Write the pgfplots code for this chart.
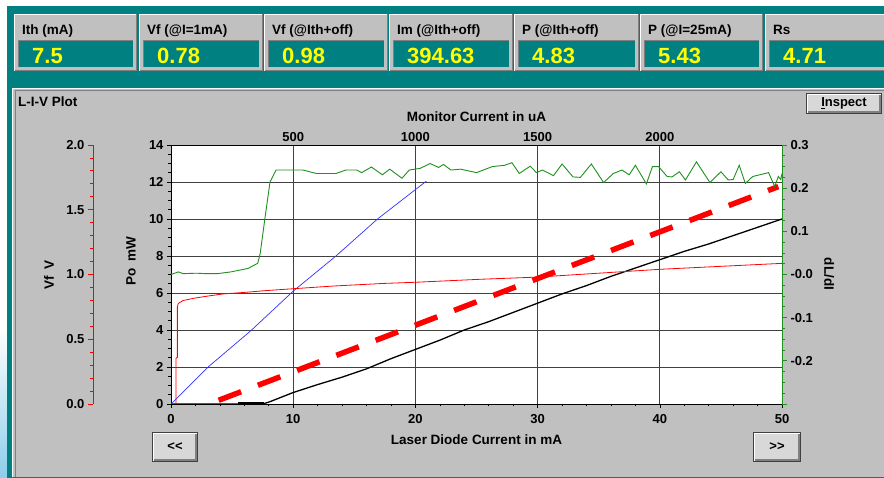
\documentclass[border=0pt]{standalone}
\usepackage{pgfplots}
\pgfplotsset{compat=1.18}
\usepackage{fontspec}
\setmainfont{Liberation Sans}
\definecolor{guiteal}{HTML}{008080}
\definecolor{guigray}{HTML}{C0C0C0}
\definecolor{guidark}{HTML}{808080}
\definecolor{btngray}{HTML}{D8D8D8}
\definecolor{gyellow}{HTML}{FFFF00}
\definecolor{cgreen}{RGB}{30,145,30}
\definecolor{cblue}{RGB}{50,50,255}
\newcommand\tickfont{\bfseries\fontsize{13}{15}\selectfont}
\newcommand\labfont{\bfseries\fontsize{13.5}{15}\selectfont}
\newcommand\boxlabfont{\bfseries\fontsize{13.5}{15}\selectfont}
\newcommand\boxvalfont{\bfseries\fontsize{22}{24}\selectfont}
\newcommand{\infobox}[4]{%
  \fill[guigray] (#1,407) rectangle (#2,464);
  \draw[white, line width=1pt] (#1+0.5,407) -- (#1+0.5,463.5) -- (#2-0.5,463.5);
  \draw[guidark, line width=1pt] (#1+0.5,407.5) -- (#2-0.5,407.5) -- (#2-0.5,464);
  \fill[guiteal] (#1+4,411) rectangle (#2-4,437);
  \draw[guidark, line width=1pt] (#1+4,411) -- (#1+4,437) -- (#2-4,437);
  \node[anchor=base west, inner sep=0pt, font=\boxlabfont] at (#1+8,443) {#3};
  \node[anchor=base west, inner sep=0pt, text=gyellow, font=\boxvalfont] at (#1+18,414) {#4};
}
\newcommand{\guibutton}[5]{%
  \fill[black!75] (#1,#2) rectangle (#3,#4);
  \fill[white] (#1+1,#2+1) rectangle (#3-1,#4-1);
  \fill[guidark] (#1+2,#2+1) rectangle (#3-1,#4-2);
  \fill[btngray] (#1+2,#2+3) rectangle (#3-3,#4-2);
  \node[font=\tickfont, inner sep=0pt] at ({(#1+#3)/2},{(#2+#4)/2}) {#5};
}
\pgfplotsset{guiaxis/.style={at={(171pt,74pt)}, anchor=south west, scale only axis,
  width=611pt, height=259pt, xmin=0, xmax=50}}
\begin{document}
\begin{tikzpicture}[x=1pt,y=1pt]
\useasboundingbox (0,0) rectangle (884,478);
\fill[white] (0,0) rectangle (884,478);
\shade[top color=white, bottom color={rgb,255:red,140;green,205;blue,235}] (0,0) rectangle (7,150);
\fill[guiteal] (7,0) rectangle (884,472);
% info boxes
\infobox{14}{137}{Ith (mA)}{7.5}
\infobox{139}{263}{Vf (@I=1mA)}{0.78}
\infobox{264}{388}{Vf (@Ith+off)}{0.98}
\infobox{389}{513}{Im (@Ith+off)}{394.63}
\infobox{514}{639}{P (@Ith+off)}{4.83}
\infobox{640}{763}{P (@I=25mA)}{5.43}
\infobox{765}{900}{Rs}{4.71}
% panel
\fill[guigray] (12,1) rectangle (884,390);
\draw[white, line width=1pt] (12.5,1) -- (12.5,389.5) -- (884,389.5);
\draw[guidark, line width=1pt] (15.5,1) -- (15.5,387.5) -- (884,387.5);
\node[anchor=base west, inner sep=0pt, font=\labfont] at (18,371) {L-I-V Plot};
\guibutton{806}{364}{882}{385}{\underline{I}nspect}
\guibutton{152}{16}{198}{46}{<{}<}
\guibutton{753}{16}{801}{46}{>{}>}

% main axis: Po vs I
\begin{axis}[guiaxis, ymin=0, ymax=14,
  axis background/.style={fill=white},
  axis line style={black, line width=0.8pt},
  xtick={0,10,20,30,40,50}, xticklabels={0,10,20,30,40,50},
  ytick={0,2,4,6,8,10,12,14}, yticklabels={0,2,4,6,8,10,12,14},
  minor x tick num=4, minor y tick num=3,
  tick align=outside, tick pos=left,
  major tick length=4pt, minor tick length=2.5pt,
  tick style={black, line width=0.6pt},
  grid=major, major grid style={black!75, line width=0.8pt},
  ticklabel style={font=\tickfont},
  xticklabel style={yshift=-3pt},
  label style={font=\labfont},
  xlabel={Laser Diode Current in mA},
  xlabel style={at={(axis description cs:0.5,-0.139)}, anchor=center},
  ylabel={Po\enspace mW},
  ylabel style={at={(axis description cs:-0.0655,0.552)}, anchor=center},
]
\addplot[black, line width=1.3pt] coordinates {
(0,0)(7.5,0)(8,0.1)(10,0.62)(12,1.05)(14,1.45)(16,1.9)(18,2.45)(20,2.95)
(22,3.45)(24,4.0)(26,4.45)(28,4.95)(30,5.45)(32,5.95)(34,6.4)(36,6.9)
(38,7.35)(40,7.8)(42,8.25)(44,8.65)(46,9.1)(48,9.55)(50,10.0)};
\addplot[black, line width=2.6pt] coordinates {(5.5,0.02)(7.6,0.02)};
\addplot[red, line width=5.5pt, dash pattern=on 24pt off 18pt] coordinates {(3.9,0.2)(49.7,11.75)};
\end{axis}

% top axis: monitor current
\begin{axis}[at={(171pt,74pt)}, anchor=south west, scale only axis,
  width=611pt, height=259pt, xmin=0, xmax=2500, ymin=0, ymax=14,
  axis x line*=top, axis y line=none,
  axis line style={black, line width=0.8pt},
  xtick={500,1000,1500,2000}, xticklabels={500,1000,1500,2000},
  major tick length=0pt,
  ticklabel style={font=\tickfont},
  label style={font=\labfont},
  xlabel={Monitor Current in uA},
  xlabel style={at={(axis description cs:0.5,1.108)}, anchor=center},
]
\addplot[cblue, line width=0.7pt] coordinates {
(0,0)(152,2)(330,4)(500,6.1)(675,8)(845,10)(1045,12.05)};
\end{axis}

% Vf curve (plotted in the plot area)
\begin{axis}[guiaxis, ymin=0, ymax=2, hide axis]
\addplot[red, line width=0.8pt] coordinates {
(0.41,0)(0.41,0.353)(0.52,0.36)(0.52,0.751)(0.60,0.777)(1.0,0.799)(1.83,0.816)
(3.05,0.834)(4.28,0.85)(5.92,0.861)(7.83,0.876)(10,0.89)(13.3,0.911)(17.4,0.931)
(20,0.94)(25.3,0.963)(30,0.98)(40,1.04)(50,1.086)};
\end{axis}

% dL/dI on the right axis
\begin{axis}[guiaxis, ymin=-0.3, ymax=0.3,
  axis y line*=right, axis x line=none,
  axis line style={cgreen, line width=1pt},
  ytick={-0.3,-0.2,-0.1,0,0.1,0.2,0.3},
  yticklabels={,-0.2,-0.1,-0.0,0.1,0.2,0.3},
  minor y tick num=3, tick align=outside,
  major tick length=5pt, minor tick length=3pt,
  tick style={cgreen, line width=0.8pt},
  ticklabel style={font=\tickfont},
  label style={font=\labfont},
  ylabel={dL/dI},
  ylabel style={at={(axis description cs:1.077,0.502)}, anchor=center, rotate=180},
]
\addplot[cgreen, line width=0.9pt] coordinates {
(0,0.000)(0.6,0.006)(1.0,0.002)(2.1,0.003)(2.8,0.002)(3.8,0.002)(4.9,0.006)
(6.3,0.014)(7.1,0.026)(7.3,0.049)(7.7,0.133)(8.1,0.214)(8.6,0.242)(10.8,0.242)
(11.9,0.234)(13.5,0.234)(14.3,0.242)(15.2,0.242)(15.6,0.236)(16.4,0.249)
(17.3,0.231)(17.9,0.244)(18.9,0.223)(19.5,0.242)(20.4,0.246)(21.2,0.257)
(21.9,0.248)(22.3,0.255)(22.9,0.242)(23.7,0.244)(25.0,0.236)(26.3,0.250)
(27.3,0.253)(27.9,0.259)(28.5,0.234)(29.4,0.251)(29.9,0.236)(30.4,0.242)
(31.3,0.229)(32.0,0.256)(32.9,0.226)(33.5,0.225)(34.4,0.256)(35.4,0.213)
(36.2,0.234)(36.9,0.242)(37.5,0.231)(38.0,0.253)(38.9,0.210)(39.4,0.250)
(39.9,0.250)(40.6,0.227)(41.0,0.226)(41.6,0.238)(42.1,0.219)(43.0,0.261)
(44.1,0.213)(45.0,0.238)(45.6,0.219)(46.0,0.220)(46.5,0.253)(47.0,0.211)
(47.6,0.227)(48.9,0.236)(49.4,0.204)(49.7,0.227)(49.9,0.220)(50,0.234)};
\end{axis}

% Vf scale axis
\begin{axis}[at={(93pt,74pt)}, anchor=south west, scale only axis,
  width=10pt, height=259pt, xmin=0, xmax=1, ymin=0, ymax=2,
  axis y line*=left, axis x line=none,
  axis line style={red, line width=0.8pt},
  ytick={0,0.5,1,1.5,2}, yticklabels={0.0,0.5,1.0,1.5,2.0},
  minor y tick num=4, tick align=outside,
  major tick length=5pt, minor tick length=3pt,
  tick style={red, line width=0.8pt},
  ticklabel style={font=\tickfont},
  label style={font=\labfont},
  ylabel={Vf\enspace V},
  ylabel style={at={(axis description cs:-4.4,0.498)}, anchor=center},
]
\addplot[draw=none] coordinates {(0,0)};
\end{axis}
\end{tikzpicture}
\end{document}
